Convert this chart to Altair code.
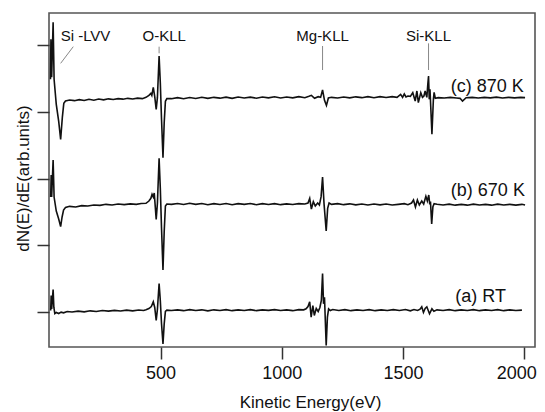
import altair as alt
import pandas as pd

# ---------------- data ----------------
# Kinetic energy (eV) and dN/dE (arb. units, relative to each trace's own baseline)
energy_c = [46, 48, 51, 57, 61, 70, 80, 88, 95, 101, 108, 125, 145, 165, 185, 205, 225, 245, 265, 285,
            305, 325, 345, 365, 385, 405, 425, 440, 452, 460, 464, 470, 476, 482, 487, 494, 499, 504, 510,
            515, 520, 526, 545, 570, 595, 620, 645, 670, 695, 720, 745, 770, 795, 820, 845, 870, 895, 920,
            945, 970, 995, 1020, 1045, 1070, 1095, 1112, 1122, 1135, 1150, 1160, 1168, 1176, 1184, 1192,
            1205, 1230, 1255, 1280, 1305, 1330, 1355, 1380, 1405, 1430, 1455, 1475, 1490, 1498, 1505, 1512,
            1520, 1530, 1540, 1550, 1557, 1563, 1573, 1580, 1586, 1591, 1598, 1602, 1605, 1608, 1611, 1619,
            1625, 1628, 1633, 1645, 1670, 1695, 1720, 1735, 1745, 1760, 1785, 1810, 1835, 1860, 1885, 1910,
            1935, 1960, 1985, 2003]
dnde_c = [6.0, 18.0, 6.6, 23.1, 6.0, -1.5, -6.6, -12.0, -5.4, -1.2, -0.5, -0.2, -0.4, -0.1, -0.35, 0.0,
          -0.25, 0.1, -0.15, 0.15, -0.05, 0.2, 0.05, 0.3, 0.1, 0.35, 0.2, 0.6, 1.2, 1.8, 1.2, 3.6, 0.8, -3.0,
          0.5, 13.0, 5.0, -6.0, -17.5, -7.0, -0.6, 0.2, 0.2, 0.5, 0.2, 0.55, 0.25, 0.6, 0.3, 0.6, 0.35, 0.65,
          0.3, 0.7, 0.4, 0.65, 0.35, 0.7, 0.45, 0.75, 0.4, 0.7, 0.45, 0.8, 0.5, 0.9, 1.2, 0.3, 0.8, 0.6, 2.8,
          -0.3, -1.8, 0.4, 0.6, 0.4, 0.7, 0.45, 0.75, 0.5, 0.8, 0.5, 0.8, 0.55, 0.8, 0.6, 1.5, 0.6, 1.6, 0.7,
          1.0, 0.9, 2.0, -0.5, 2.5, -1.0, 2.0, 0.6, 1.0, 2.5, 0.6, 4.5, 7.0, 0.0, 3.0, -10.5, 0.0, 2.1, 0.3,
          0.5, 0.4, 0.6, 0.4, 0.3, -0.5, 0.5, 0.6, 0.4, 0.6, 0.45, 0.65, 0.4, 0.6, 0.45, 0.6, 0.5]

energy_b = [47, 49, 51, 57, 61, 70, 80, 88, 94, 100, 108, 125, 150, 175, 200, 225, 250, 275, 300, 325,
            350, 375, 400, 420, 440, 452, 460, 465, 470, 474, 482, 487, 494, 499, 504, 510, 515, 520, 526,
            545, 570, 595, 620, 645, 670, 695, 720, 745, 770, 795, 820, 845, 870, 895, 920, 945, 970, 995,
            1020, 1045, 1070, 1095, 1108, 1115, 1122, 1130, 1138, 1148, 1155, 1162, 1168, 1174, 1183, 1189,
            1195, 1205, 1230, 1255, 1280, 1305, 1330, 1355, 1380, 1405, 1430, 1455, 1480, 1505, 1520, 1535,
            1543, 1551, 1559, 1567, 1577, 1585, 1594, 1600, 1606, 1610, 1613, 1618, 1623, 1628, 1640, 1665,
            1690, 1715, 1740, 1765, 1790, 1815, 1840, 1865, 1890, 1915, 1940, 1965, 1990, 2003]
dnde_b = [2.4, 9.0, 2.4, 13.5, 2.4, -1.8, -4.2, -6.5, -3.6, -1.5, -0.75, -0.4, -0.6, -0.2, -0.3, 0.0,
          -0.1, 0.2, 0.0, 0.3, 0.1, 0.35, 0.2, 0.45, 0.5, 1.2, 2.0, 3.2, 2.4, 3.6, -4.3, 0.5, 14.0, 5.0,
          -7.0, -19.5, -8.0, -0.3, 0.3, 0.2, 0.45, 0.15, 0.5, 0.2, 0.45, 0.1, 0.4, 0.15, 0.45, 0.1, 0.4, 0.2,
          0.45, 0.1, 0.4, 0.15, 0.4, 0.1, 0.35, 0.15, 0.4, 0.3, 0.6, 2.0, -1.2, 1.0, -0.3, 0.6, 0.0, 2.5, 8.4,
          0.5, -7.8, -1.0, 0.6, 0.2, 0.4, 0.1, 0.35, 0.05, 0.3, 0.0, 0.3, 0.05, 0.3, 0.0, 0.2, 0.4, 0.1, 0.6,
          1.5, -0.6, 1.5, 0.0, 1.2, 0.3, 2.6, 1.2, 3.0, 0.2, 1.0, -5.7, -0.5, 0.4, 0.2, 0.0, 0.25, -0.05,
          0.2, -0.05, 0.25, 0.0, 0.2, -0.05, 0.25, 0.0, 0.2, -0.05, 0.2, 0.0]

energy_a = [47, 49, 51, 57, 60, 64, 70, 80, 90, 100, 115, 135, 160, 185, 210, 235, 260, 285, 310, 335,
            360, 385, 410, 430, 440, 452, 462, 470, 476, 482, 487, 494, 499, 504, 510, 515, 520, 526, 545,
            570, 595, 620, 645, 670, 695, 720, 745, 770, 795, 820, 845, 870, 895, 920, 945, 970, 995, 1020,
            1045, 1070, 1090, 1100, 1108, 1115, 1121, 1128, 1134, 1142, 1150, 1157, 1163, 1168, 1172, 1176,
            1183, 1188, 1193, 1200, 1210, 1235, 1260, 1285, 1310, 1335, 1360, 1385, 1410, 1435, 1460, 1485,
            1510, 1530, 1545, 1560, 1570, 1577, 1584, 1591, 1598, 1609, 1619, 1627, 1640, 1665, 1690, 1715,
            1740, 1765, 1790, 1815, 1840, 1865, 1890, 1915, 1940, 1965, 1990, 2003]
dnde_a = [0.0, 4.5, 0.5, 6.3, 1.0, -0.9, -0.6, -0.9, -0.5, -0.7, -0.3, -0.45, -0.2, -0.4, -0.1, -0.3,
          0.0, -0.2, 0.05, -0.15, 0.1, -0.1, 0.15, 0.0, 0.2, 0.6, 1.2, 2.6, 0.9, -3.0, 0.3, 8.1, 3.0, -4.0,
          -10.0, -4.0, -0.3, 0.1, 0.0, 0.2, -0.05, 0.25, 0.0, 0.2, -0.1, 0.2, 0.0, 0.25, -0.05, 0.2, 0.0,
          0.25, -0.05, 0.2, 0.05, 0.25, 0.0, 0.2, -0.05, 0.25, 0.2, 0.5, 1.2, 2.6, -2.0, 1.5, -1.5, 0.6, -0.3,
          0.9, 3.0, 11.1, 2.0, 4.0, -10.5, -2.0, 0.5, 0.0, 0.3, 0.0, 0.25, -0.05, 0.2, 0.0, 0.25, -0.05,
          0.2, 0.0, 0.25, 0.0, 0.3, -0.1, 0.3, 0.0, 0.4, 1.1, -0.6, 0.6, 1.1, -1.0, 0.5, -0.2, 0.2, 0.0,
          0.25, -0.05, 0.2, 0.0, 0.25, -0.05, 0.2, 0.0, 0.25, -0.05, 0.2, 0.0, 0.1]

series_names = ["(c) 870 K", "(b) 670 K", "(a) RT"]
series_offsets = [63.8, 32.1, 0.45]  # vertical stacking offsets of the three traces

# Peak annotations: label, label energy, anchor, leader line (E1, y1, E2, y2)
peak_labels = ["Si -LVV", "O-KLL", "Mg-KLL", "Si-KLL"]
peak_label_E = [88, 515, 1168, 1605]
peak_label_align = ["left", "center", "center", "center"]
peak_label_y = [81.45, 81.45, 81.45, 81.45]
leader_E1 = [140, 494, 1168, 1605]
leader_y1 = [79.6, 79.6, 79.8, 80.6]
leader_E2 = [88, 494, 1168, 1605]
leader_y2 = [74.6, 77.6, 72.6, 72.6]

# Series labels
series_label_E = [1697, 1697, 1715]
series_label_y = [66.1, 34.9, 3.1]

x_ticks = [500, 1000, 1500, 2000]
y_ticks = [0, 20, 40, 60, 80]

# ---------------- build tables ----------------
rows = []
for name, off, es, vs in zip(series_names, series_offsets,
                             [energy_c, energy_b, energy_a], [dnde_c, dnde_b, dnde_a]):
    for e, v in zip(es, vs):
        rows.append({"series": name, "E": e, "y": v + off})
spec_df = pd.DataFrame(rows)

lab_df = pd.DataFrame({"label": peak_labels, "E": peak_label_E, "y": peak_label_y,
                       "align": peak_label_align})
lead_df = pd.DataFrame({"E1": leader_E1, "y1": leader_y1, "E2": leader_E2, "y2": leader_y2})
ser_df = pd.DataFrame({"label": series_names, "E": series_label_E, "y": series_label_y})

FONT = "Liberation Sans, Arial, Helvetica, sans-serif"

xscale = alt.Scale(domain=[40, 2044], nice=False, zero=False)
yscale = alt.Scale(domain=[-10.5, 89.7], nice=False, zero=False)

xaxis = alt.Axis(values=x_ticks, title="Kinetic Energy(eV)", labelFontSize=18, labelPadding=5,
                 labelOffset={"condition": {"test": "datum.value == 2000", "value": -8}, "value": 0},
                 titleFontSize=17, titleFontWeight="normal", titleX=261, titleY=60,
                 titleBaseline="alphabetic", titleAlign="center", format="d")
yaxis = alt.Axis(values=y_ticks, labels=False, title="dN(E)/dE(arb.units)", titleFontSize=17,
                 titleFontWeight="normal", titleX=-21, titleY=165, titleAngle=270,
                 titleBaseline="alphabetic", titleAlign="center")

lines = alt.Chart(spec_df).mark_line(color="#111111", strokeWidth=1.6, clip=True).encode(
    x=alt.X("E:Q", scale=xscale, axis=xaxis),
    y=alt.Y("y:Q", scale=yscale, axis=yaxis),
    detail="series:N",
    order="E:Q",
)

leaders = alt.Chart(lead_df).mark_rule(color="#888888", strokeWidth=1).encode(
    x=alt.X("E1:Q", scale=xscale), y=alt.Y("y1:Q", scale=yscale),
    x2="E2:Q", y2="y2:Q",
)

peak_text_left = alt.Chart(lab_df[lab_df["align"] == "left"]).mark_text(
    align="left", baseline="alphabetic", font=FONT, fontSize=15, color="#111111"
).encode(x=alt.X("E:Q", scale=xscale), y=alt.Y("y:Q", scale=yscale), text="label:N")

peak_text_center = alt.Chart(lab_df[lab_df["align"] == "center"]).mark_text(
    align="center", baseline="alphabetic", font=FONT, fontSize=15, color="#111111"
).encode(x=alt.X("E:Q", scale=xscale), y=alt.Y("y:Q", scale=yscale), text="label:N")

series_text = alt.Chart(ser_df).mark_text(
    align="left", baseline="alphabetic", font=FONT, fontSize=18, color="#111111"
).encode(x=alt.X("E:Q", scale=xscale), y=alt.Y("y:Q", scale=yscale), text="label:N")

chart = alt.layer(lines, leaders, peak_text_left, peak_text_center, series_text).properties(
    width=486, height=334,
    autosize=alt.AutoSizeParams(type="none"),
    padding={"left": 41, "top": 5, "right": 2, "bottom": 66},
).configure_view(
    stroke="#555555", strokeWidth=1.6
).configure_axis(
    domain=False, grid=False, tickColor="#333333", tickWidth=1.5, tickSize=12,
    labelFont=FONT, titleFont=FONT, labelColor="#111111", titleColor="#111111"
)

chart.save("out.html", embed_options={"renderer": "svg", "actions": False})
